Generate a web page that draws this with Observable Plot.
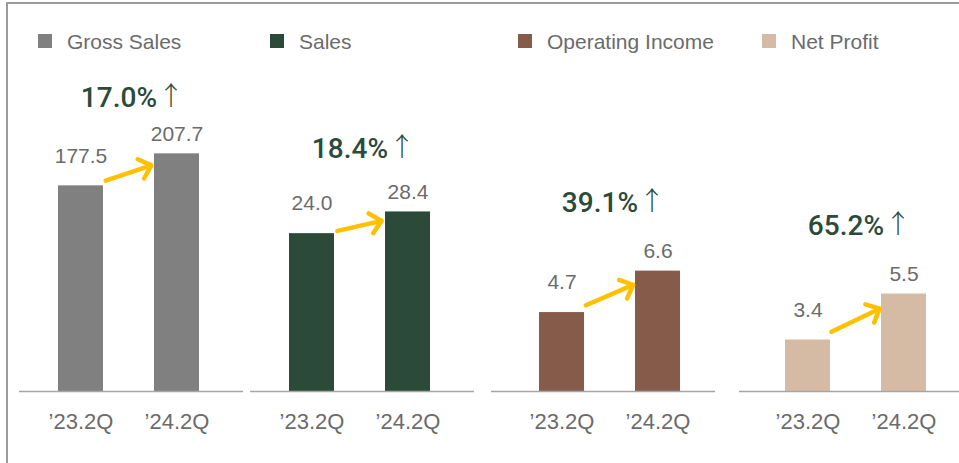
<!DOCTYPE html>
<html>
<head>
<meta charset="utf-8">
<script src="https://cdn.jsdelivr.net/npm/d3@7"></script>
<script src="https://cdn.jsdelivr.net/npm/@observablehq/plot@0.6"></script>
<style>
  html, body { margin: 0; padding: 0; background: #fff; }
  #root { position: relative; width: 959px; height: 463px; overflow: hidden; background: #fff;
          font-family: "Liberation Sans", Arial, sans-serif; }
  #frame { position: absolute; left: 6px; top: 2px; width: 1000px; height: 500px;
           border-top: 2px solid #9b9b9b; border-left: 2px solid #9b9b9b; }
  .sw { position: absolute; width: 14px; height: 14px; }
  .lg { position: absolute; font-size: 21px; line-height: 21px; color: #6b6b6b; white-space: nowrap; }
  .panel { position: absolute; top: 0; width: 224px; height: 463px; }
  .panel svg { overflow: visible; max-width: none !important; }
</style>
</head>
<body>
<div id="root"><div id="frame"></div></div>
<script>
// ---- data ----
const panels = ["Gross Sales", "Sales", "Operating Income", "Net Profit"];
const periods = ["\u201923.2Q", "\u201924.2Q"];
const prevValues = [177.5, 24.0, 4.7, 3.4];
const currValues = [207.7, 28.4, 6.6, 5.5];
const growthLabels = ["17.0%", "18.4%", "39.1%", "65.2%"];
const colors = ["#808080", "#2B4A3A", "#875B4A", "#D5BBA3"];

// ---- layout (per panel) ----
const layout = [
  {left: 19,  align: 0.463, yDomain: [-16.6, 295.8], pctDy: -56, legendX: 38},
  {left: 250, align: 0.463, yDomain: [-8.0, 59.1],   pctDy: -63, legendX: 270},
  {left: 491, align: 0.573, yDomain: [1.08, 16.26],  pctDy: -68, legendX: 518},
  {left: 739, align: 0.549, yDomain: [1.05, 16.16],  pctDy: -68, legendX: 762}
];
const font = "'Liberation Sans', Arial, sans-serif";
const grey = "#6b6b6b";
const green = "#2B4A3A";

const root = document.getElementById("root");

panels.forEach((name, i) => {
  const L = layout[i];
  // legend
  const sw = document.createElement("div");
  sw.className = "sw";
  sw.style.left = L.legendX + "px";
  sw.style.top = "34px";
  sw.style.background = colors[i];
  root.appendChild(sw);
  const lg = document.createElement("div");
  lg.className = "lg";
  lg.style.left = (L.legendX + 29) + "px";
  lg.style.top = "30.5px";
  lg.textContent = name;
  root.appendChild(lg);

  const data = periods.map((p, j) => ({period: p, value: j ? currValues[i] : prevValues[i]}));
  const d0 = L.yDomain[0];
  const chart = Plot.plot({
    width: 224,
    height: 463,
    marginTop: 60,
    marginBottom: 72,
    marginLeft: 0,
    marginRight: 0,
    style: {fontFamily: font, background: "transparent", overflow: "visible"},
    x: {domain: periods, paddingInner: 0.536, paddingOuter: 0.4227, align: L.align, label: null, axis: null},
    y: {domain: L.yDomain, axis: null},
    marks: [
      Plot.barY(data, {x: "period", y1: d0, y2: "value", fill: colors[i]}),
      Plot.ruleY([d0], {stroke: "#a6a6a6", strokeWidth: 1.5}),
      Plot.axisX({tickSize: 0, tickPadding: 22, fontSize: 22, fill: grey, label: null}),
      Plot.text(data.slice(0, 1), {x: "period", y: "value", text: d => d.value.toFixed(1),
        dy: -30, fontSize: 21, fill: grey}),
      Plot.text(data.slice(1), {x: "period", y: "value", text: d => d.value.toFixed(1),
        dy: -20, fontSize: 21, fill: grey}),
      Plot.arrow([data], {
        x1: d => d[0].period, y1: d => d[0].value,
        x2: d => d[1].period, y2: d => d[1].value,
        stroke: "#FFC000", strokeWidth: 4.5, insetStart: 26, insetEnd: 27,
        headLength: 5, headAngle: 85, dy: 3
      }),
      Plot.text([growthLabels[i]], {
        x: () => periods[1], y: () => currValues[i],
        text: d => d, textAnchor: "end", dx: -20, dy: L.pctDy,
        fontSize: 28, fontWeight: 500, fill: green,
        fontFamily: "Roboto, 'Liberation Sans', sans-serif"
      }),
      Plot.text(["\u2191"], {
        x: () => periods[1], y: () => currValues[i],
        text: d => d, textAnchor: "start", dx: -19, dy: L.pctDy - 1,
        fontSize: 26, fontWeight: 300, fill: green,
        fontFamily: "'Noto Sans CJK KR', 'DejaVu Sans', sans-serif"
      })
    ]
  });
  const wrap = document.createElement("div");
  wrap.className = "panel";
  wrap.style.left = L.left + "px";
  wrap.appendChild(chart);
  root.appendChild(wrap);
});
</script>
</body>
</html>
